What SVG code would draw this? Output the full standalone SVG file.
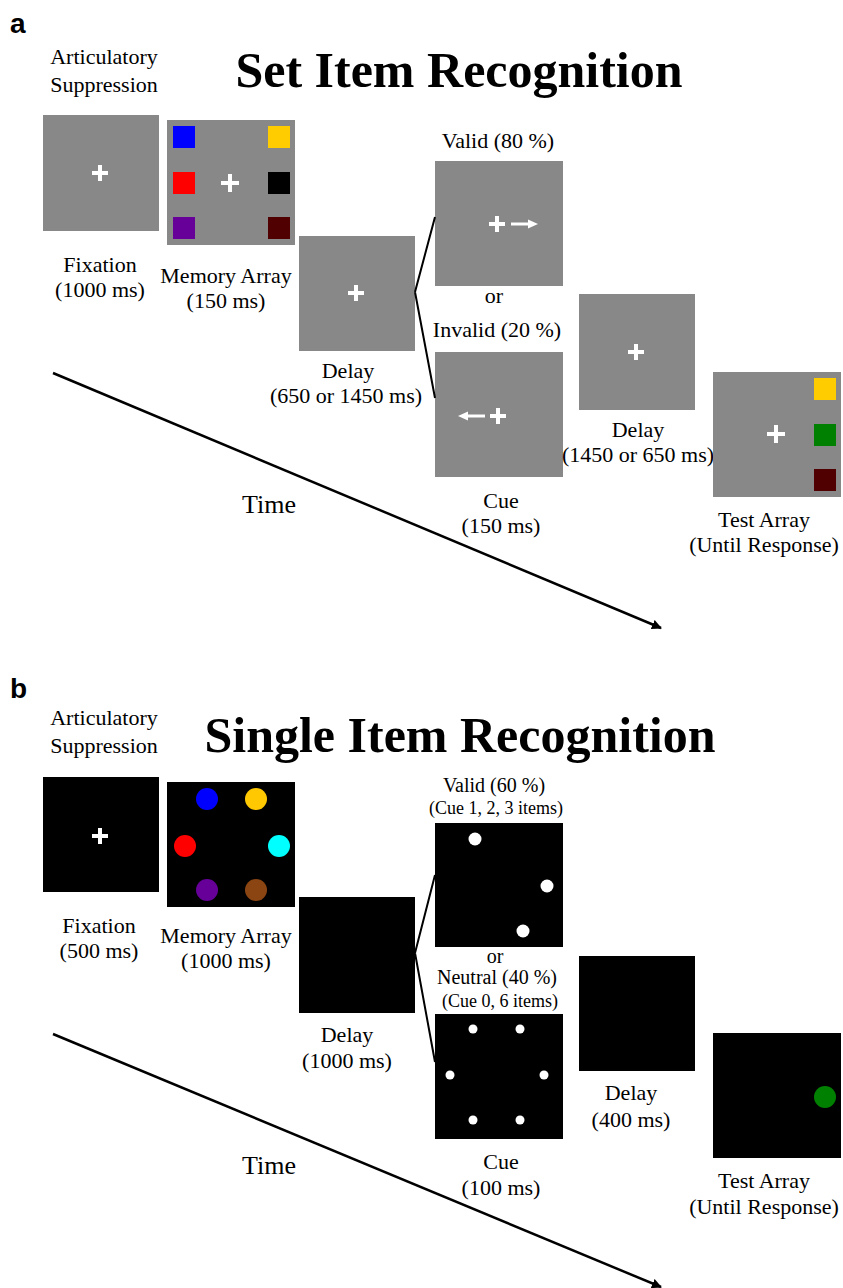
<svg xmlns="http://www.w3.org/2000/svg" width="843" height="1288" viewBox="0 0 843 1288">
<style>
text{font-family:"Liberation Serif","Times New Roman",serif;fill:#000;text-anchor:middle}
.l{font-size:22px}
.m{font-size:20px}
.s{font-size:18px}
.t{font-size:50px;font-weight:bold}
.tm{font-size:26px}
.p{font-family:"Liberation Sans",Arial,sans-serif;font-size:28px;font-weight:bold;text-anchor:start}
.g{fill:#888888}
.k{fill:#000000}
.x{stroke:#fff;stroke-width:4;fill:none}
.c{stroke:#000;stroke-width:2;fill:none}
.ar{stroke:#000;stroke-width:2.5;fill:none}
.w{fill:#fff}
</style>
<defs>
<marker id="ah" viewBox="0 0 10 10" refX="9" refY="5" markerWidth="10" markerHeight="10" markerUnits="userSpaceOnUse" orient="auto">
<path d="M0,0 L10,5 L0,10 z" fill="#000"/>
</marker>
</defs>

<text class="p" x="10" y="33">a</text>
<text class="t" x="459" y="87">Set Item Recognition</text>
<text class="l" x="104" y="64">Articulatory</text>
<text class="l" x="104" y="92">Suppression</text>

<g id="a-fixation">
<rect class="g" x="43" y="115" width="116" height="116"/>
<path class="x" d="M92,173 H108 M100,165 V181"/>
<text class="l" x="100" y="272">Fixation</text>
<text class="l" x="100" y="297">(1000 ms)</text>
</g>

<g id="a-memory">
<rect class="g" x="167" y="120" width="128" height="125"/>
<rect x="173" y="126" width="22" height="22" fill="#0000ff"/>
<rect x="268" y="126" width="22" height="22" fill="#ffcc00"/>
<rect x="173" y="172" width="22" height="22" fill="#ff0000"/>
<rect x="268" y="172" width="22" height="22" fill="#000000"/>
<rect x="173" y="217" width="22" height="22" fill="#660099"/>
<rect x="268" y="217" width="22" height="22" fill="#500000"/>
<path class="x" d="M221,183 H239 M230,174 V192"/>
<text class="l" x="226" y="283">Memory Array</text>
<text class="l" x="226" y="308">(150 ms)</text>
</g>

<g id="a-delay1">
<rect class="g" x="299" y="236" width="116" height="115"/>
<path class="x" d="M348,293 H364 M356,285 V301"/>
<text class="l" x="348" y="378">Delay</text>
<text class="l" x="346" y="403">(650 or 1450 ms)</text>
</g>

<g id="a-valid">
<text class="l" x="498" y="148">Valid (80 %)</text>
<rect class="g" x="435" y="161" width="128" height="125"/>
<path class="x" d="M489,224 H505 M497,216 V232"/>
<path d="M511,224 H530" stroke="#fff" stroke-width="3"/>
<path class="w" d="M528,219.5 L538,224 L528,228.5 z"/>
</g>

<text class="l" x="494" y="303">or</text>

<g id="a-invalid">
<text class="l" x="497" y="337">Invalid (20 %)</text>
<rect class="g" x="435" y="352" width="128" height="125"/>
<path class="x" d="M490,416 H506 M498,408 V424"/>
<path d="M466,416 H485" stroke="#fff" stroke-width="3"/>
<path class="w" d="M468,411.5 L458,416 L468,420.5 z"/>
<text class="l" x="501" y="508">Cue</text>
<text class="l" x="501" y="533">(150 ms)</text>
</g>

<g id="a-delay2">
<rect class="g" x="579" y="294" width="116" height="116"/>
<path class="x" d="M628,352 H644 M636,344 V360"/>
<text class="l" x="638" y="437">Delay</text>
<text class="l" x="638" y="462">(1450 or 650 ms)</text>
</g>

<g id="a-test">
<rect class="g" x="713" y="372" width="128" height="125"/>
<rect x="814" y="378" width="22" height="22" fill="#ffcc00"/>
<rect x="814" y="424" width="22" height="22" fill="#008000"/>
<rect x="814" y="469" width="22" height="22" fill="#500000"/>
<path class="x" d="M767,434 H785 M776,425 V443"/>
<text class="l" x="764" y="527">Test Array</text>
<text class="l" x="764" y="552">(Until Response)</text>
</g>

<text class="tm" x="269" y="513">Time</text>

<text class="p" x="10" y="698">b</text>
<text class="t" x="460" y="752">Single Item Recognition</text>
<text class="l" x="104" y="725">Articulatory</text>
<text class="l" x="104" y="753">Suppression</text>

<g id="b-fixation">
<rect class="k" x="43" y="777" width="116" height="115"/>
<path class="x" d="M92,836 H108 M100,828 V844"/>
<text class="l" x="99" y="933">Fixation</text>
<text class="l" x="99" y="958">(500 ms)</text>
</g>

<g id="b-memory">
<rect class="k" x="167" y="782" width="128" height="125"/>
<circle cx="207" cy="799" r="11" fill="#0000ff"/>
<circle cx="256" cy="799" r="11" fill="#ffc800"/>
<circle cx="185" cy="846" r="11" fill="#ff0000"/>
<circle cx="279" cy="846" r="11" fill="#00ffff"/>
<circle cx="207" cy="890" r="11" fill="#660099"/>
<circle cx="256" cy="890" r="11" fill="#8b4513"/>
<text class="l" x="226" y="943">Memory Array</text>
<text class="l" x="226" y="968">(1000 ms)</text>
</g>

<g id="b-delay1">
<rect class="k" x="299" y="897" width="116" height="116"/>
<text class="l" x="347" y="1042">Delay</text>
<text class="l" x="347" y="1068">(1000 ms)</text>
</g>

<g id="b-valid">
<text class="m" x="494" y="792">Valid (60 %)</text>
<text class="s" x="496" y="814">(Cue 1, 2, 3 items)</text>
<rect class="k" x="435" y="823" width="128" height="124"/>
<circle class="w" cx="475" cy="839" r="6.5"/>
<circle class="w" cx="547" cy="886" r="6.5"/>
<circle class="w" cx="523" cy="931" r="6.5"/>
</g>

<text class="m" x="495" y="963">or</text>

<g id="b-neutral">
<text class="m" x="497" y="984">Neutral (40 %)</text>
<text class="s" x="500" y="1007">(Cue 0, 6 items)</text>
<rect class="k" x="435" y="1014" width="128" height="125"/>
<circle class="w" cx="473" cy="1029" r="4.5"/>
<circle class="w" cx="520" cy="1029" r="4.5"/>
<circle class="w" cx="450" cy="1075" r="4.5"/>
<circle class="w" cx="544" cy="1075" r="4.5"/>
<circle class="w" cx="473" cy="1120" r="4.5"/>
<circle class="w" cx="520" cy="1120" r="4.5"/>
<text class="l" x="501" y="1169">Cue</text>
<text class="l" x="501" y="1195">(100 ms)</text>
</g>

<g id="b-delay2">
<rect class="k" x="579" y="956" width="116" height="115"/>
<text class="l" x="631" y="1100">Delay</text>
<text class="l" x="631" y="1127">(400 ms)</text>
</g>

<g id="b-test">
<rect class="k" x="713" y="1033" width="128" height="125"/>
<circle cx="825" cy="1097" r="11" fill="#008000"/>
<text class="l" x="764" y="1188">Test Array</text>
<text class="l" x="764" y="1214">(Until Response)</text>
</g>

<text class="tm" x="269" y="1174">Time</text>

<g id="connectors">
<path class="c" d="M415,292 L435,217 M415,292 L435,398"/>
<path class="c" d="M415,953 L435,875 M415,953 L435,1062"/>
<path class="ar" d="M53,373 L661,628" marker-end="url(#ah)"/>
<path class="ar" d="M53,1034 L661,1287" marker-end="url(#ah)"/>
</g>
</svg>
